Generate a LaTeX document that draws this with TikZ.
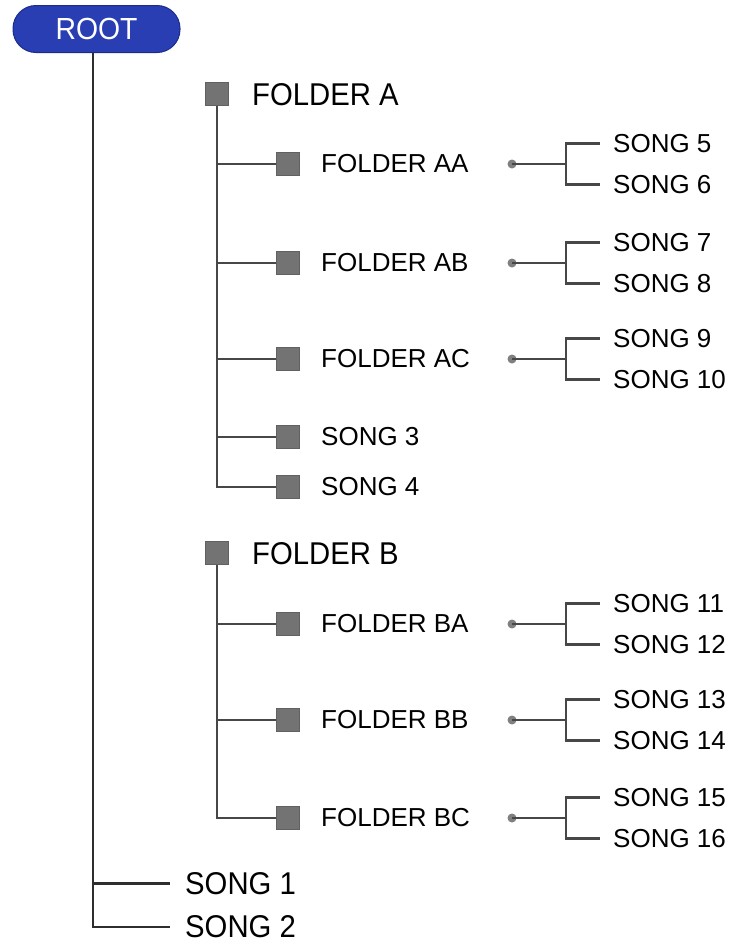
\documentclass[tikz,border=0pt]{standalone}
\usepackage{fontspec}
\setmainfont{Liberation Sans}
\newfontfamily\narrowf[FakeStretch=0.93]{Liberation Sans}
\definecolor{rootblue}{RGB}{40,62,178}
\definecolor{rootedge}{RGB}{28,44,140}
\newcommand\fldrow[5]{%
  \node[sq] (#1) at (287.5,#2) {};
  \node[smalltxt] (#1t) at (321,#2) {#3};
  \node[dotn] (#1d) at (512,#2) {};
  \node[smalltxt] (#1a) at (613,#2-20.5) {#4};
  \node[smalltxt] (#1b) at (613,#2+20.5) {#5};
  \draw[link] (#1d.center) -- ++(54,0) coordinate (#1j);
  \draw[link] ([xshift=-13pt]#1a.west) -| (#1j) |- ([xshift=-13pt]#1b.west);
}
\begin{document}
\begin{tikzpicture}[x=1pt,y=-1pt,
  trunk/.style={draw=black!82, line width=2.3pt},
  link/.style={draw=black!72, line width=2.2pt},
  sq/.style={draw=black!62, fill=black!55, line width=1pt, minimum size=23pt, inner sep=0pt},
  bigtxt/.style={anchor=west, inner sep=0pt, text=black, font=\narrowf\fontsize{31.5}{32}\selectfont},
  smalltxt/.style={anchor=west, inner sep=0pt, text=black, font=\fontsize{26}{27}\selectfont},
  dotn/.style={circle, fill=black!50, inner sep=0pt, minimum size=9pt},
  rootpill/.style={draw=rootedge, line width=1pt, fill=rootblue, rounded corners=23pt,
    minimum width=167pt, minimum height=47pt, inner sep=0pt, text=white,
    font=\narrowf\fontsize{30.5}{31}\selectfont}]
\useasboundingbox (0,0) rectangle (741,951);

% root
\node[rootpill] (root) at (96.5,29) {ROOT};
\node[bigtxt] (s1) at (185,883.5) {SONG 1};
\node[bigtxt] (s2) at (185,927) {SONG 2};

% folder A
\node[sq] (fa) at (217,94) {};
\node[bigtxt] (fat) at (252,94.5) {FOLDER A};
\fldrow{aa}{164}{FOLDER AA}{SONG 5}{SONG 6}
\fldrow{ab}{263}{FOLDER AB}{SONG 7}{SONG 8}
\fldrow{ac}{359}{FOLDER AC}{SONG 9}{SONG 10}
\node[sq] (s3q) at (287.5,437) {};
\node[smalltxt] (s3) at (321,437) {SONG 3};
\node[sq] (s4q) at (287.5,487) {};
\node[smalltxt] (s4) at (321,487) {SONG 4};

% folder B
\node[sq] (fb) at (217,553) {};
\node[bigtxt] (fbt) at (252,553.5) {FOLDER B};
\fldrow{ba}{624}{FOLDER BA}{SONG 11}{SONG 12}
\fldrow{bb}{720}{FOLDER BB}{SONG 13}{SONG 14}
\fldrow{bc}{818}{FOLDER BC}{SONG 15}{SONG 16}

% trunk
\draw[trunk] ([xshift=-3.5pt]root.south) |- ([xshift=-15pt]s2.west);
\draw[trunk] ([xshift=-3.5pt]root.south |- s1.west) -- ([xshift=-15pt]s1.west);

% folder A branches
\draw[link] (fa.south) |- (s4q.west);
\foreach \n in {aa,ab,ac,s3q} \draw[link] (fa.south |- \n.west) -- (\n.west);

% folder B branches
\draw[link] (fb.south) |- (bc.west);
\foreach \n in {ba,bb} \draw[link] (fb.south |- \n.west) -- (\n.west);
\end{tikzpicture}
\end{document}
